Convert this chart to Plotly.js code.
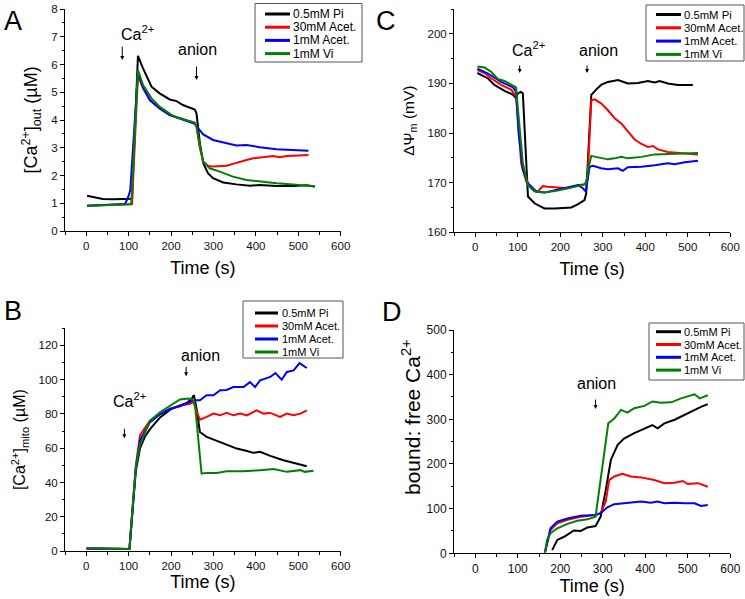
<!DOCTYPE html>
<html>
<head>
<meta charset="utf-8">
<script src="https://cdn.plot.ly/plotly-3.0.1.min.js"></script>
<style>html,body{margin:0;padding:0;background:#fff;}#chart{width:745px;height:599px;}</style>
</head>
<body>
<div id="chart"></div>
<script>
// ---------- series names / colours ----------
const seriesNames = ['0.5mM Pi', '30mM Acet.', '1mM Acet.', '1mM Vi'];
const seriesColors = ['#000000', '#ff0000', '#0000ff', '#008000'];

// ---------- Panel A : [Ca2+]out (µM) ----------
const aPiT   = [2, 20, 39, 63, 91, 108, 122, 134, 154, 173, 197, 213, 228, 256, 260, 268, 276, 287, 299, 323, 354, 386, 409, 449, 488, 520, 539];
const aPiV   = [1.27, 1.2, 1.15, 1.14, 1.15, 1.16, 6.31, 5.86, 5.2, 4.96, 4.74, 4.68, 4.54, 4.38, 4.24, 3.16, 2.44, 2.08, 1.9, 1.75, 1.68, 1.63, 1.66, 1.62, 1.62, 1.65, 1.6];
const aAc30T = [2, 50, 100, 108, 122, 134, 150, 173, 197, 228, 256, 260, 268, 276, 287, 299, 315, 331, 346, 362, 378, 394, 409, 425, 441, 457, 472, 488, 504, 524];
const aAc30V = [0.91, 0.93, 0.95, 0.97, 5.62, 5.14, 4.72, 4.42, 4.18, 4.02, 3.9, 3.76, 3.0, 2.5, 2.35, 2.32, 2.33, 2.35, 2.42, 2.5, 2.56, 2.62, 2.64, 2.68, 2.7, 2.66, 2.7, 2.71, 2.72, 2.74];
const aAc1T  = [2, 50, 91, 98, 104, 122, 134, 150, 173, 197, 220, 244, 256, 264, 276, 299, 331, 354, 378, 409, 449, 488, 524];
const aAc1V  = [0.91, 0.93, 0.97, 1.18, 1.48, 5.74, 5.18, 4.72, 4.42, 4.18, 4.06, 3.92, 3.86, 3.7, 3.48, 3.28, 3.16, 3.08, 3.1, 3.02, 2.95, 2.92, 2.89];
const aViT   = [2, 50, 106, 122, 134, 154, 173, 205, 228, 256, 260, 268, 276, 291, 315, 346, 378, 409, 449, 488, 520, 539];
const aViV   = [0.91, 0.93, 0.96, 5.8, 5.26, 4.78, 4.48, 4.14, 4.02, 3.9, 3.76, 3.04, 2.5, 2.26, 2.14, 1.96, 1.84, 1.78, 1.72, 1.68, 1.62, 1.6];

// ---------- Panel C : ΔΨm (mV) ----------
const cPiT   = [5, 30, 45, 69, 89, 96, 100, 107, 112, 118, 124, 140, 163, 187, 210, 226, 242, 257, 261, 273, 285, 296, 312, 336, 359, 383, 406, 422, 434, 453, 477, 512];
const cPiV   = [192.1, 191.0, 189.7, 188.5, 187.7, 187.0, 188, 188.3, 188, 176.6, 167.2, 165.8, 164.8, 164.8, 165, 165, 165.7, 166.5, 167.8, 187.7, 188.8, 189.7, 190.3, 190.7, 190, 190.1, 190.5, 190.2, 190.5, 190, 189.7, 189.7];
const cAc30T = [5, 22, 38, 61, 85, 96, 102, 108, 120, 136, 147, 159, 171, 194, 218, 242, 257, 264, 273, 281, 296, 312, 328, 344, 359, 375, 391, 406, 418, 430, 453, 485, 524];
const cAc30V = [192.7, 192.1, 191, 189.7, 188.7, 187.3, 181.3, 173.9, 170.2, 168.5, 168.2, 169.3, 169.2, 169, 168.9, 169.5, 169.7, 170.5, 186.6, 186.8, 186, 184.6, 183, 181.9, 180.3, 178.7, 177.8, 177.2, 177.4, 176.7, 176.2, 176, 175.7];
const cAc1T  = [5, 30, 61, 89, 96, 102, 112, 124, 144, 163, 187, 218, 242, 253, 260, 269, 277, 296, 312, 336, 347, 359, 391, 422, 453, 469, 493, 524];
const cAc1V  = [193, 192, 190.3, 189.2, 188.3, 180, 172.6, 169.9, 168.2, 168, 168.5, 169.1, 169.5, 168.9, 168.2, 173.2, 173.4, 172.9, 172.7, 172.9, 172.4, 173.1, 173.2, 173.5, 173.9, 173.7, 174.1, 174.4];
const cViT   = [5, 22, 38, 53, 69, 85, 96, 102, 112, 124, 140, 163, 194, 226, 249, 260, 267, 273, 289, 312, 328, 344, 359, 391, 422, 453, 485, 524];
const cViV   = [193.4, 193.2, 192.3, 190.9, 190.5, 189.7, 189.2, 183.3, 173.9, 169.5, 168.2, 168, 168.4, 169, 169.5, 169.7, 173.2, 175.4, 175.1, 174.7, 174.9, 175.2, 174.9, 175.2, 175.7, 175.8, 175.8, 176];

// ---------- Panel B : [Ca2+]mito (µM) ----------
const bPiT   = [1, 30, 60, 102, 117, 127, 139, 150, 174, 198, 221, 237, 249, 254, 261, 268, 284, 308, 331, 355, 379, 394, 410, 434, 465, 489, 520];
const bPiV   = [1.5, 1.4, 1.5, 1.2, 47, 60, 67, 71, 78, 82.5, 85, 86.4, 89, 91, 82, 69.5, 66.6, 64.3, 61.7, 59.8, 58.4, 57.3, 57.9, 55.5, 53, 51.5, 49.5];
const bAc30T = [1, 102, 117, 127, 150, 174, 198, 221, 245, 253, 261, 268, 284, 300, 316, 331, 347, 363, 379, 402, 418, 434, 457, 473, 489, 505, 520];
const bAc30V = [1.5, 1.2, 50, 67.6, 76, 80, 83, 85, 86, 87, 81, 76.7, 78.3, 80.2, 79.2, 80.6, 79.2, 80.2, 79.2, 82.1, 80.2, 80.6, 78.3, 80.2, 79.2, 80.2, 82.1];
const bAc1T  = [1, 102, 117, 127, 150, 174, 198, 221, 253, 268, 284, 300, 316, 331, 347, 371, 386, 398, 410, 434, 446, 461, 473, 489, 503, 520];
const bAc1V  = [1.5, 1.2, 48, 64.7, 75, 79.8, 83, 84.5, 88, 88, 90.9, 90.9, 93.8, 94, 95.7, 95.7, 98.6, 95.7, 99.6, 101.6, 103.9, 100, 104.5, 105.4, 109.7, 106.8];
const bViT   = [1, 30, 60, 102, 107, 117, 127, 139, 150, 174, 198, 221, 241, 253, 257, 272, 284, 308, 331, 370, 410, 442, 473, 505, 515, 536];
const bViV   = [1.6, 1.4, 1.5, 1.2, 18, 49, 62, 69.5, 76, 81, 85, 88.5, 89, 88.5, 84, 45.2, 45.6, 45.6, 46.6, 46.6, 47.2, 47.8, 46.2, 47.2, 46.2, 46.8];

// ---------- Panel D : bound : free Ca2+ ----------
const dPiT   = [181, 193, 209, 232, 248, 264, 283, 295, 307, 319, 335, 350, 374, 398, 417, 429, 445, 469, 492, 516, 531, 547];
const dPiV   = [7, 30, 37, 51, 50, 58, 61, 82, 142, 209, 243, 257, 269, 280, 287, 280, 291, 299, 310, 321, 328, 334];
const dAc30T = [164, 177, 193, 217, 248, 283, 295, 307, 315, 327, 346, 366, 390, 421, 445, 469, 488, 500, 524, 547];
const dAc30V = [2, 52, 67, 75, 82, 86, 90, 116, 164, 172, 178, 172, 170, 164, 157, 158, 162, 155, 157, 149];
const dAc1T  = [164, 177, 193, 217, 248, 283, 295, 311, 327, 358, 390, 413, 429, 445, 469, 493, 516, 531, 547];
const dAc1V  = [2, 56, 71, 78, 84, 86, 90, 103, 110, 113, 116, 113, 116, 112, 113, 112, 112, 106, 108];
const dViT   = [164, 169, 177, 193, 217, 240, 264, 283, 313, 327, 343, 358, 374, 398, 417, 437, 461, 484, 516, 528, 547];
const dViV   = [2, 30, 45, 56, 66, 73, 76, 82, 291, 302, 321, 315, 325, 330, 340, 337, 338, 347, 356, 347, 354];

// ---------- layout helpers ----------
const W = 745, H = 599;
const FONT = 'Liberation Sans, Arial, sans-serif';
const fx = p => p / W;
const fy = p => 1 - p / H;

const panels = [
  {xa: 'x',  ya: 'y',  data: [[aPiT, aPiV], [aAc30T, aAc30V], [aAc1T, aAc1V], [aViT, aViV]]},
  {xa: 'x2', ya: 'y2', data: [[cPiT, cPiV], [cAc30T, cAc30V], [cAc1T, cAc1V], [cViT, cViV]]},
  {xa: 'x3', ya: 'y3', data: [[bPiT, bPiV], [bAc30T, bAc30V], [bAc1T, bAc1V], [bViT, bViV]]},
  {xa: 'x4', ya: 'y4', data: [[dPiT, dPiV], [dAc30T, dAc30V], [dAc1T, dAc1V], [dViT, dViV]]}
];

const traces = [];
panels.forEach(p => {
  p.data.forEach((d, i) => {
    traces.push({
      type: 'scatter', mode: 'lines', x: d[0], y: d[1],
      xaxis: p.xa, yaxis: p.ya, name: seriesNames[i],
      line: {color: seriesColors[i], width: 2},
      hoverinfo: 'skip', showlegend: false
    });
  });
});

function axis(opts) {
  return {
    domain: opts.domain, range: opts.range, anchor: opts.anchor,
    showline: true, linecolor: '#000', linewidth: 1, mirror: false,
    ticks: 'outside', ticklen: 4, tickwidth: 1, tickcolor: '#000',
    tick0: 0, dtick: opts.dtick,
    minor: {tick0: 0, dtick: opts.minor, ticks: 'outside', ticklen: 2.5, tickwidth: 1, tickcolor: '#000', showgrid: false},
    showgrid: false, zeroline: false, fixedrange: true,
    tickfont: {family: FONT, size: opts.tickSize || 11.5, color: '#111'},
    title: {text: opts.title, font: {family: FONT, size: opts.titleSize, color: '#000'}, standoff: opts.standoff}
  };
}

const xLeft = [fx(65), fx(340.7)];
const xRight = [fx(454), fx(730.3)];

const layout = {
  width: W, height: H,
  margin: {l: 0, r: 0, t: 0, b: 0, pad: 0},
  paper_bgcolor: '#fff', plot_bgcolor: '#fff',
  showlegend: false,
  font: {family: FONT, color: '#000'},
  xaxis:  axis({domain: xLeft,  range: [-50, 600], anchor: 'y',  dtick: 100, minor: 50, title: 'Time (s)', titleSize: 18, standoff: 10}),
  yaxis:  axis({domain: [fy(231), fy(9)], range: [0, 8], anchor: 'x', dtick: 1, minor: 0.5,
               title: '[Ca<sup>2+</sup>]<sub>out</sub> (µM)', titleSize: 18, standoff: 8}),
  xaxis2: axis({domain: xRight, range: [-50, 600], anchor: 'y2', dtick: 100, minor: 50, title: 'Time (s)', titleSize: 18, standoff: 10}),
  yaxis2: axis({domain: [fy(232.3), fy(9)], range: [160, 205], anchor: 'x2', dtick: 10, minor: 5,
               title: 'ΔΨ<sub>m</sub> (mV)', titleSize: 15.5, standoff: 9}),
  xaxis3: axis({domain: xLeft,  range: [-50, 600], anchor: 'y3', dtick: 100, minor: 50, title: 'Time (s)', titleSize: 18, standoff: 3}),
  yaxis3: axis({domain: [fy(551), fy(328.3)], range: [0, 130], anchor: 'x3', dtick: 20, minor: 10,
               title: '[Ca<sup>2+</sup>]<sub>mito</sub> (µM)', titleSize: 16, standoff: 8}),
  xaxis4: axis({domain: xRight, range: [-50, 600], anchor: 'y4', dtick: 100, minor: 50, title: 'Time (s)', titleSize: 18, standoff: 3, tickSize: 12}),
  yaxis4: axis({domain: [fy(553.3), fy(330)], range: [0, 500], anchor: 'x4', dtick: 100, minor: 50,
               title: '', titleSize: 20, standoff: 8, tickSize: 12}),
  annotations: [],
  shapes: []
};

// y title of panel D (placed higher than the axis centre, as in the figure)
layout.annotations.push({text: 'bound: free Ca<sup>2+</sup>', xref: 'paper', yref: 'paper', x: fx(411), y: fy(417),
  xanchor: 'center', yanchor: 'middle', textangle: -90, showarrow: false, font: {family: FONT, size: 21, color: '#000'}});

// panel letters
[['A', 2, 4], ['C', 374, 4], ['B', 2, 294], ['D', 380, 295]].forEach(l => {
  layout.annotations.push({text: l[0], xref: 'paper', yref: 'paper', x: fx(l[1]), y: fy(l[2]),
    xanchor: 'left', yanchor: 'top', showarrow: false, font: {family: FONT, size: 27, color: '#000'}});
});

// event labels (paper pixel centres)
const eventLabels = [
  ['Ca<sup>2+</sup>', 137, 33], ['anion', 197, 49],
  ['Ca<sup>2+</sup>', 528, 49], ['anion', 598, 51],
  ['Ca<sup>2+</sup>', 129, 400], ['anion', 201, 355],
  ['anion', 596, 383]
];
eventLabels.forEach(e => {
  layout.annotations.push({text: e[0], xref: 'paper', yref: 'paper', x: fx(e[1]), y: fy(e[2]),
    xanchor: 'center', yanchor: 'middle', showarrow: false, font: {family: FONT, size: 16, color: '#000'}});
});

// event arrows (tip in data coords: time, value; tail length px)
const eventArrows = [
  ['x', 'y', 85, 6.16, 15], ['x', 'y', 260, 5.44, 15],
  ['x2', 'y2', 104.5, 192.1, 9], ['x2', 'y2', 263, 192.1, 9],
  ['x3', 'y3', 90, 65.8, 11], ['x3', 'y3', 235.6, 102, 11],
  ['x4', 'y4', 283, 323, 11]
];
eventArrows.forEach(a => {
  layout.annotations.push({text: '', xref: a[0], yref: a[1], x: a[2], y: a[3],
    showarrow: true, ax: 0, ay: -a[4], arrowhead: 2, arrowsize: 0.8, arrowwidth: 1, arrowcolor: '#000', standoff: 0, startstandoff: 0});
});

// legends (pixel boxes)
const legendBoxes = [
  {x0: 255, y0: 3.5, x1: 362, y1: 62, l0: 265, l1: 290, tx: 291, r0: 14, step: 13.2, size: 12},
  {x0: 646, y0: 5, x1: 744, y1: 61, l0: 656, l1: 681, tx: 682, r0: 14.5, step: 13.3, size: 11.3},
  {x0: 243, y0: 301, x1: 343, y1: 358, l0: 255, l1: 278, tx: 280, r0: 313, step: 13, size: 11},
  {x0: 649, y0: 323, x1: 744, y1: 380, l0: 656, l1: 681, tx: 682, r0: 331.7, step: 12.8, size: 11}
];
legendBoxes.forEach(b => {
  layout.shapes.push({type: 'rect', xref: 'paper', yref: 'paper', x0: fx(b.x0), x1: fx(b.x1), y0: fy(b.y0), y1: fy(b.y1),
    line: {color: '#555', width: 1}, fillcolor: 'rgba(0,0,0,0)'});
  seriesNames.forEach((n, i) => {
    const yy = b.r0 + i * b.step;
    layout.shapes.push({type: 'line', xref: 'paper', yref: 'paper', x0: fx(b.l0), x1: fx(b.l1), y0: fy(yy), y1: fy(yy),
      line: {color: seriesColors[i], width: 3}});
    layout.annotations.push({text: n, xref: 'paper', yref: 'paper', x: fx(b.tx), y: fy(yy),
      xanchor: 'left', yanchor: 'middle', showarrow: false, font: {family: FONT, size: b.size, color: '#000'}});
  });
});

Plotly.newPlot('chart', traces, layout, {staticPlot: true, displayModeBar: false});
</script>
</body>
</html>
